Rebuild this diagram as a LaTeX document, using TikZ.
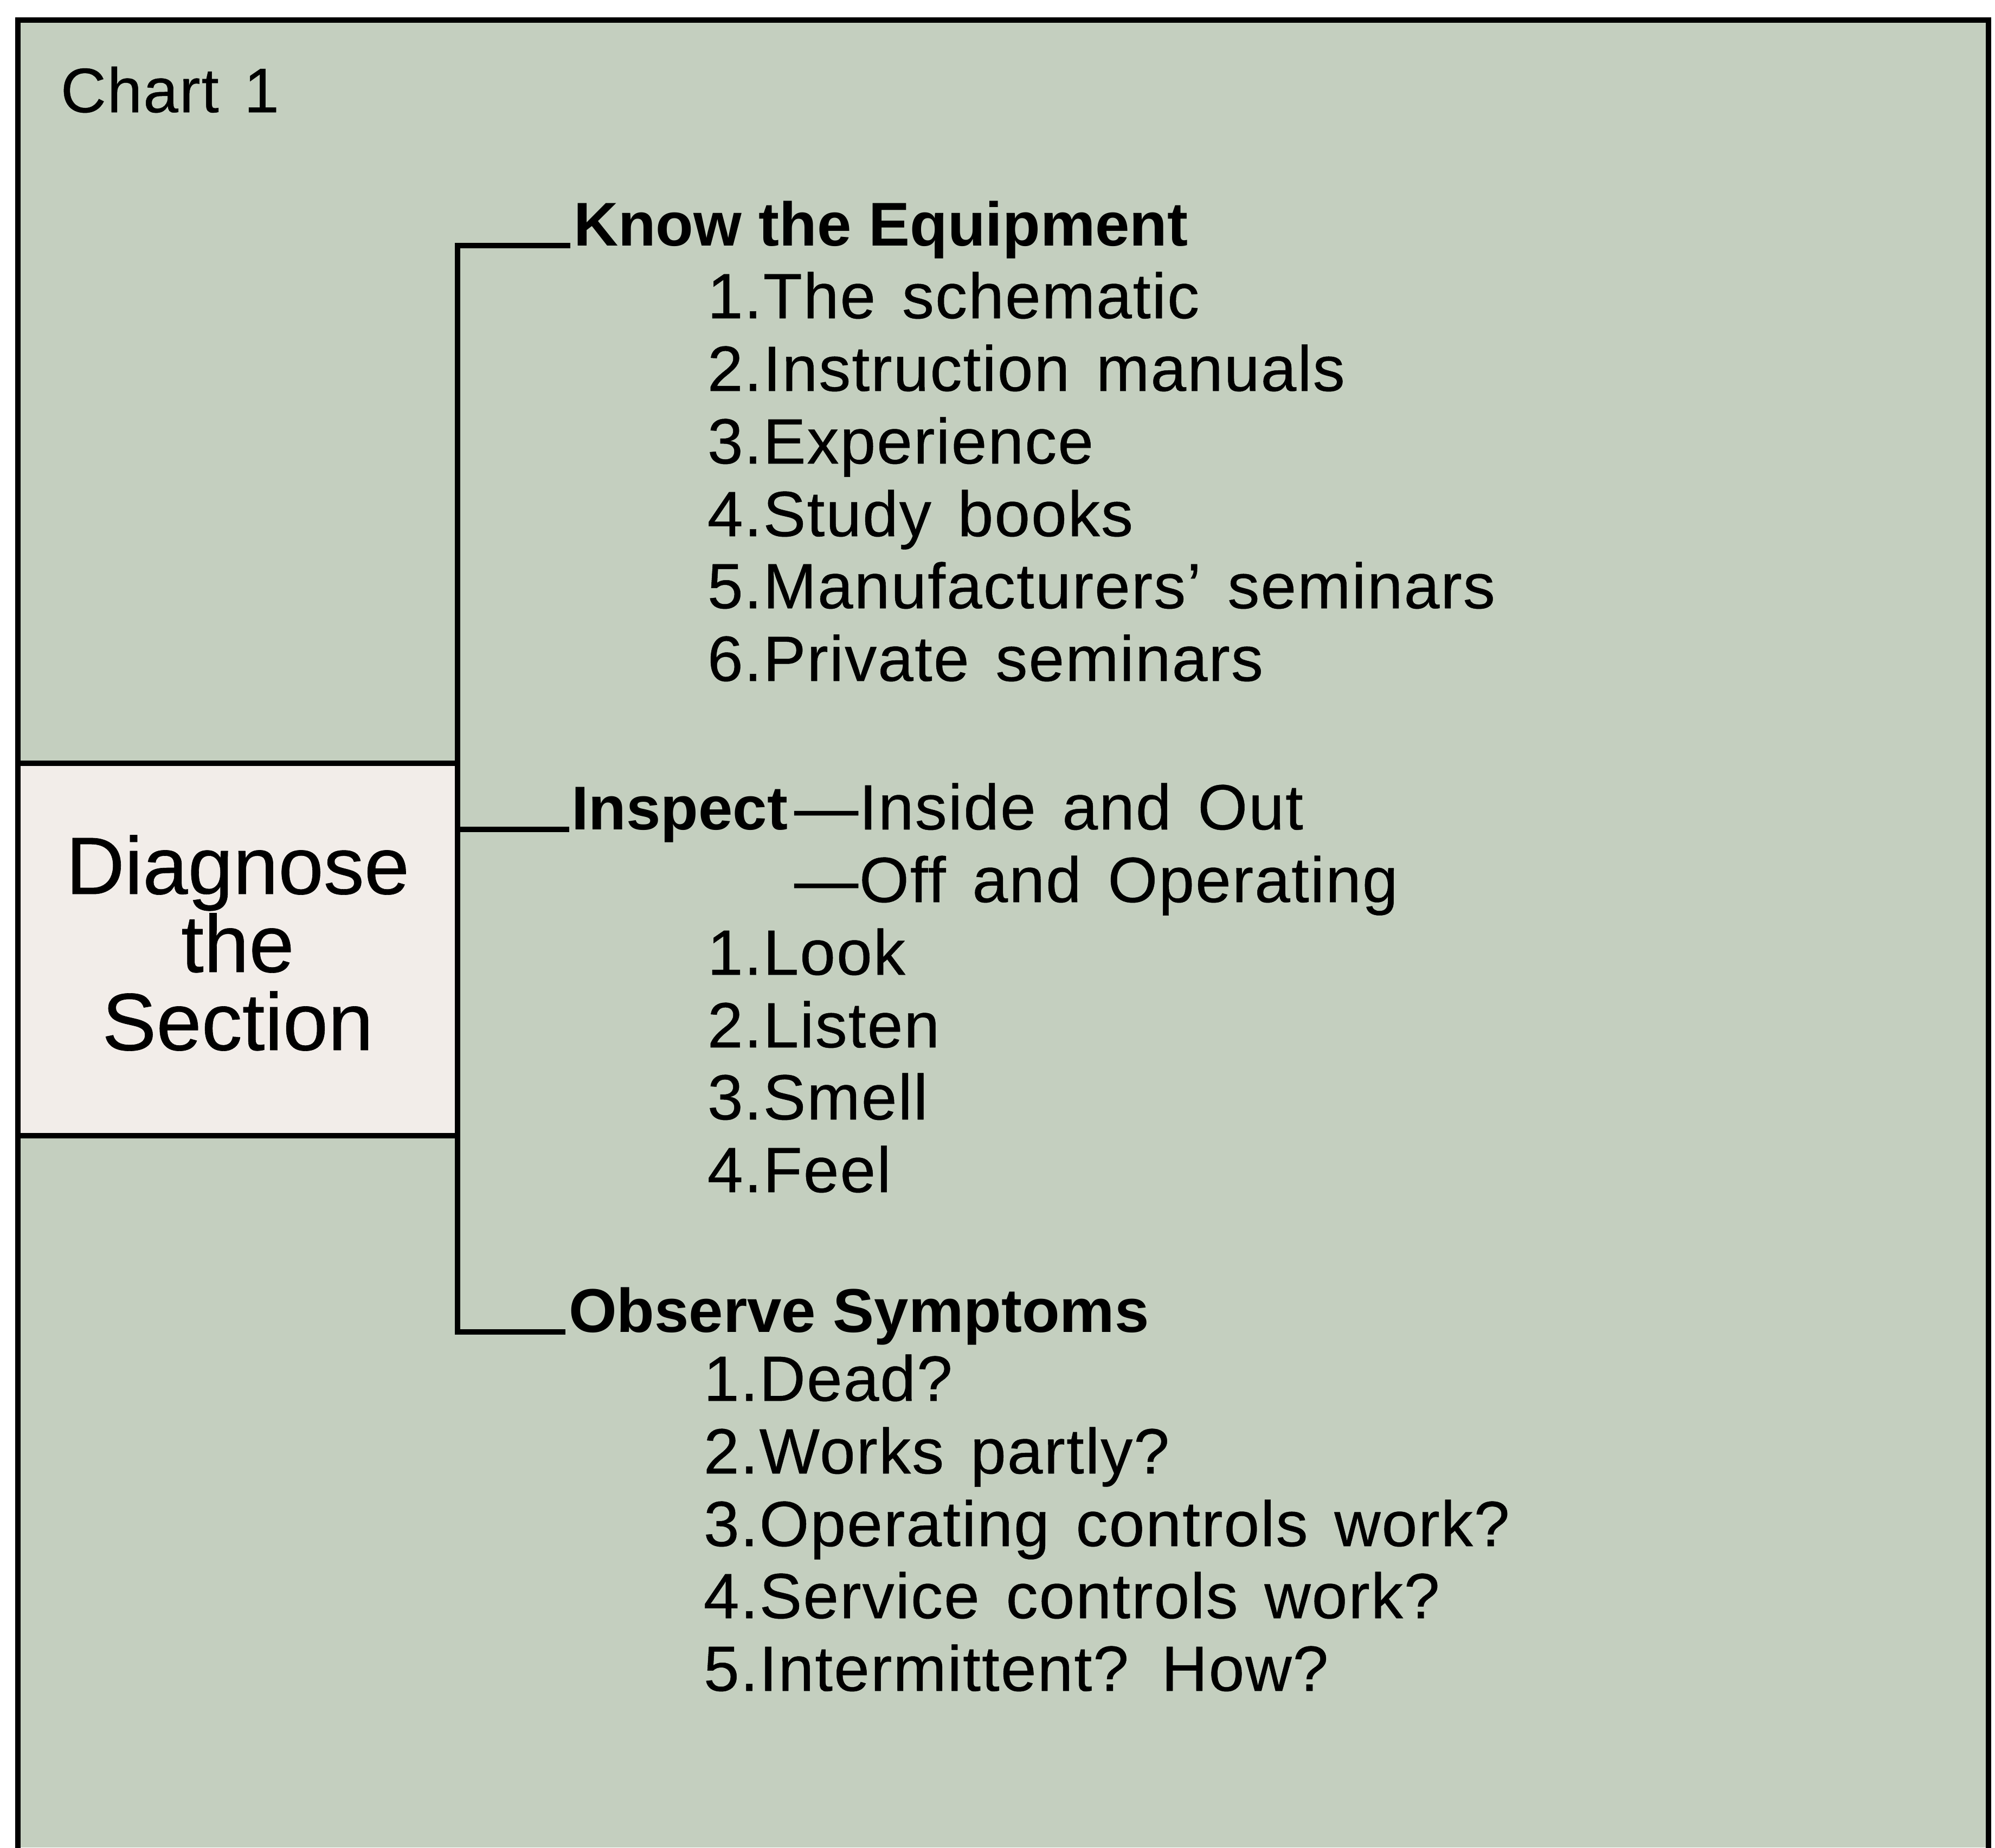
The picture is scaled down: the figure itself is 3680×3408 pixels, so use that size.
\documentclass[tikz,border=0pt]{standalone}
\usepackage{fontspec}
\setmainfont{Liberation Sans}
\newfontfamily\itemfont[LetterSpace=1.8,WordSpace=1.4,FakeBold=0.4]{Liberation Sans}
\newfontfamily\boxfont[FakeBold=0.4]{Liberation Sans}
\definecolor{chartbg}{RGB}{196,207,191}
\definecolor{boxbg}{RGB}{242,237,233}
\tikzset{
  frameline/.style={line width=1pt,black},
  linkline/.style={line width=0.95pt,black},
  headtxt/.style={anchor=base west,inner sep=0pt,font=\fontsize{11.4}{13}\selectfont\bfseries},
  itemtxt/.style={anchor=base west,inner sep=0pt,font=\fontsize{11.8}{13}\selectfont\itemfont},
}
\begin{document}
\begin{tikzpicture}[x=0.1pt,y=-0.1pt]
\useasboundingbox (0,0) rectangle (3680,3408);
\fill[white] (0,0) rectangle (3680,3408);
\fill[chartbg] (33,37) rectangle (3668,3408);
% central box
\node[fill=boxbg,inner sep=0pt,minimum width=80.7pt,minimum height=68.3pt,anchor=north west] (diag) at (33,1408) {};
\node[inner sep=0pt,align=center,font=\fontsize{15}{14.4}\selectfont\boxfont] (diagtxt) at ([yshift=1.2pt]diag.center)
      {Diagnose\\the\\Section};
\draw[frameline] (diag.north west) -- (diag.north east);
\draw[frameline] (diag.south west) -- (diag.south east);
% frame
\draw[frameline] (33,3420) -- (33,37) -- (3668,37) -- (3668,3420);
\node[anchor=base west,inner sep=0pt,font=\fontsize{11.6}{13}\selectfont\itemfont] (title) at (110,207) {Chart\hspace{0.4em}1};
% headers
\node[headtxt] (know) at (1056,453) {Know the Equipment};
\node[headtxt] (insp) at (1052,1530) {Inspect};
\node[itemtxt,xshift=0.8pt] (inspA) at (insp.base east) {—Inside and Out};
\node[itemtxt] (inspB) at (inspA.base west |- 0,1664) {—Off and Operating};
\node[headtxt] (obs) at (1047,2457) {Observe Symptoms};
% items
\node[itemtxt] (k1) at (1303,587) {1.The schematic};
\node[itemtxt] (k2) at (1303,721) {2.Instruction manuals};
\node[itemtxt] (k3) at (1303,855) {3.Experience};
\node[itemtxt] (k4) at (1303,989) {4.Study books};
\node[itemtxt] (k5) at (1303,1122) {5.Manufacturers’ seminars};
\node[itemtxt] (k6) at (1303,1256) {6.Private seminars};
\node[itemtxt] (i1) at (1303,1798) {1.Look};
\node[itemtxt] (i2) at (1303,1932) {2.Listen};
\node[itemtxt] (i3) at (1303,2065) {3.Smell};
\node[itemtxt] (i4) at (1303,2199) {4.Feel};
\node[itemtxt] (o1) at (1296,2584) {1.Dead?};
\node[itemtxt] (o2) at (1296,2718) {2.Works partly?};
\node[itemtxt] (o3) at (1296,2852) {3.Operating controls work?};
\node[itemtxt] (o4) at (1296,2985) {4.Service controls work?};
\node[itemtxt] (o5) at (1296,3119) {5.Intermittent? How?};
% bracket connectors
\draw[linkline] ([xshift=-0.4pt]know.base west) -| (diag.east |- obs.base west) -- ([xshift=-0.4pt]obs.base west);
\draw[linkline] (diag.east |- insp.base west) -- ([xshift=-0.2pt]insp.base west);
\end{tikzpicture}
\end{document}
